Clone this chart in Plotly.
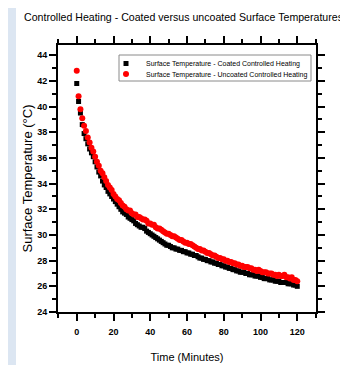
import plotly.graph_objects as go

time_min = list(range(121))

coated = [41.8, 40.4, 39.5, 38.6, 37.9, 37.5, 37.1, 36.7, 36.4, 36.1,
          35.7, 35.3, 34.9, 34.6, 34.2, 33.9, 33.7, 33.4, 33.2, 33.0,
          32.8, 32.6, 32.4, 32.2, 32.0, 31.8, 31.7, 31.6, 31.4, 31.3,
          31.2, 31.1, 30.9, 30.8, 30.7, 30.6, 30.6, 30.5, 30.3, 30.2,
          30.1, 30.0, 29.9, 29.8, 29.7, 29.6, 29.5, 29.4, 29.3, 29.2,
          29.2, 29.1, 29.0, 29.0, 28.9, 28.9, 28.8, 28.8, 28.7, 28.7,
          28.6, 28.6, 28.5, 28.5, 28.4, 28.4, 28.3, 28.2, 28.2, 28.1,
          28.1, 28.0, 28.0, 27.9, 27.9, 27.8, 27.8, 27.7, 27.7, 27.6,
          27.6, 27.5, 27.5, 27.4, 27.4, 27.3, 27.3, 27.2, 27.2, 27.1,
          27.1, 27.1, 27.0, 27.0, 26.9, 26.9, 26.9, 26.8, 26.8, 26.8,
          26.7, 26.7, 26.6, 26.6, 26.6, 26.5, 26.5, 26.5, 26.4, 26.4,
          26.4, 26.3, 26.3, 26.3, 26.3, 26.2, 26.2, 26.2, 26.1, 26.1,
          26.0]

uncoated = [42.8, 40.8, 39.8, 39.1, 38.5, 38.1, 37.6, 37.2, 36.8, 36.5,
            36.1, 35.7, 35.4, 35.0, 34.8, 34.5, 34.2, 33.9, 33.7, 33.5,
            33.2, 33.0, 32.8, 32.7, 32.5, 32.3, 32.2, 32.0, 31.9, 31.9,
            31.7, 31.6, 31.6, 31.4, 31.4, 31.3, 31.2, 31.2, 31.1, 30.9,
            30.9, 30.8, 30.8, 30.6, 30.5, 30.5, 30.4, 30.3, 30.2, 30.1,
            30.1, 30.0, 29.9, 29.9, 29.8, 29.7, 29.6, 29.6, 29.5, 29.4,
            29.4, 29.3, 29.3, 29.2, 29.1, 29.0, 28.9, 28.9, 28.8, 28.8,
            28.7, 28.6, 28.6, 28.5, 28.4, 28.4, 28.3, 28.2, 28.2, 28.1,
            28.1, 28.0, 28.0, 27.9, 27.9, 27.8, 27.8, 27.7, 27.7, 27.6,
            27.6, 27.5, 27.5, 27.5, 27.4, 27.4, 27.3, 27.3, 27.2, 27.3,
            27.2, 27.1, 27.1, 27.1, 27.0, 27.0, 27.0, 26.9, 26.9, 26.8,
            26.9, 26.8, 26.8, 26.9, 26.7, 26.7, 26.6, 26.7, 26.5, 26.5,
            26.4]

x_ticks = [0, 20, 40, 60, 80, 100, 120]
y_ticks = [24, 26, 28, 30, 32, 34, 36, 38, 40, 42, 44]

# the page adds an 8px body margin, so the figure is drawn 8px smaller
W, H = 340, 357
L, R, T, B = 50, 32, 37, 53
pw, ph = W - L - R, H - T - B


def px_x(v):
    return (v - L) / pw


def px_y(v):
    return (H - B - v) / ph


fig = go.Figure()
fig.add_trace(go.Scatter(
    x=time_min, y=coated, mode="markers",
    name="Surface Temperature - Coated Controlled Heating",
    marker=dict(symbol="square", size=5, color="black", line=dict(width=0)),
    legend="legend",
))
fig.add_trace(go.Scatter(
    x=time_min, y=uncoated, mode="markers",
    name="Surface Temperature - Uncoated Controlled Heating",
    marker=dict(symbol="circle", size=6, color="#ff0000", line=dict(width=0)),
    legend="legend2",
))

# light blue strip on the left edge of the page
fig.add_shape(type="rect", xref="paper", yref="paper",
              x0=px_x(-2), x1=px_x(8),
              y0=px_y(H + 2), y1=px_y(-2),
              fillcolor="#dce6f2", line=dict(width=0), layer="below")
# legend frame
fig.add_shape(type="rect", xref="paper", yref="paper",
              x0=px_x(111), x1=px_x(303), y0=px_y(73), y1=px_y(47),
              fillcolor="white", line=dict(color="#8a8a8a", width=1), layer="below")

fam = "Liberation Sans, Arial"
tickfont = dict(family=fam, size=9, color="black", weight="bold")
legfont = dict(family=fam, size=7, color="black")

fig.update_layout(
    width=W, height=H,
    margin=dict(l=L, r=R, t=T, b=B, autoexpand=False),
    paper_bgcolor="white", plot_bgcolor="white",
    showlegend=True,
    title=dict(text="Controlled Heating - Coated versus uncoated Surface Temperatures",
               x=16 / W, xanchor="left", xref="container",
               y=1 - 9 / H, yanchor="middle", yref="container",
               pad=dict(l=0, r=0, t=0, b=0),
               font=dict(family=fam, size=10.6, color="black")),
    legend=dict(x=px_x(98), y=px_y(41), xanchor="left", yanchor="top",
                borderwidth=0, bgcolor="rgba(0,0,0,0)", font=legfont, itemwidth=30),
    legend2=dict(x=px_x(98), y=px_y(51.5), xanchor="left", yanchor="top",
                 borderwidth=0, bgcolor="rgba(0,0,0,0)", font=legfont, itemwidth=30),
    xaxis=dict(range=[-10.2, 130.2], tickvals=x_ticks, ticktext=[str(v) for v in x_ticks],
               ticks="outside", ticklen=7, tickwidth=2, tickcolor="black",
               showline=True, linecolor="black", linewidth=2, mirror="ticks",
               showgrid=False, zeroline=False, ticklabelstandoff=3,
               minor=dict(dtick=10, tick0=0, ticks="outside", ticklen=4, tickwidth=2, tickcolor="black", showgrid=False),
               tickfont=tickfont,
               title=dict(text="Time (Minutes)", standoff=18,
                          font=dict(family=fam, size=11, color="black"))),
    yaxis=dict(range=[24, 44.8], tickvals=y_ticks, ticktext=[str(v) for v in y_ticks],
               ticks="outside", ticklen=7, tickwidth=2, tickcolor="black",
               showline=True, linecolor="black", linewidth=2, mirror="ticks",
               showgrid=False, zeroline=False,
               minor=dict(dtick=1, tick0=0, ticks="outside", ticklen=4, tickwidth=2, tickcolor="black", showgrid=False),
               tickfont=tickfont,
               title=dict(text="Surface Temperature (°C)", standoff=2,
                          font=dict(family=fam, size=13, color="black"))),
)

fig.write_html("out.html")
